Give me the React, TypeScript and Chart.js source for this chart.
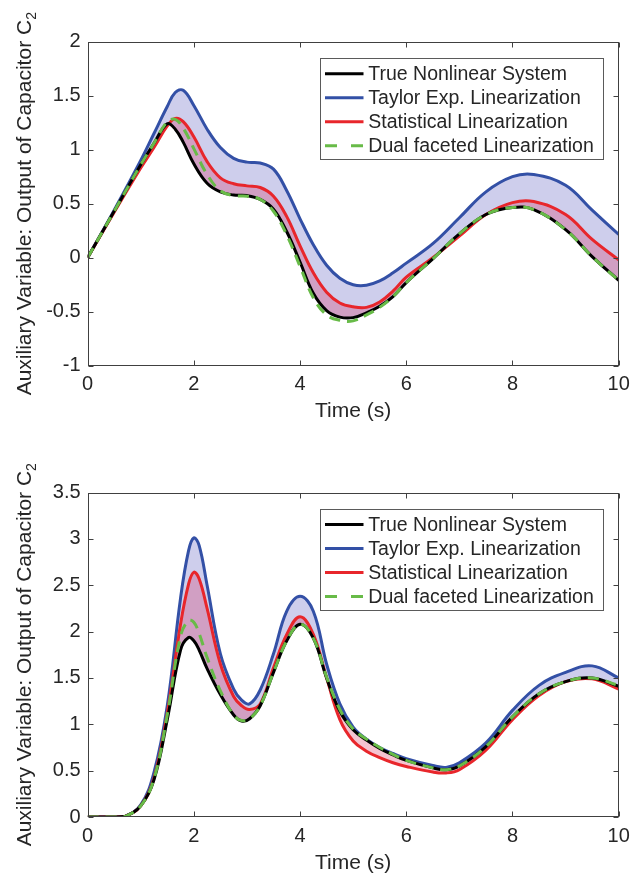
import React, { useEffect, useRef } from 'react';
import { Chart, registerables } from 'chart.js';

Chart.register(...registerables);

const FONT = "'Liberation Sans', Arial, Helvetica, sans-serif";

const SERIES_LABELS = [
  'True Nonlinear System',
  'Taylor Exp. Linearization',
  'Statistical Linearization',
  'Dual faceted Linearization',
];
const X_TICKS = [0, 2, 4, 6, 8, 10];
const Y_TICKS_TOP = [-1, -0.5, 0, 0.5, 1, 1.5, 2];
const Y_TICKS_BOTTOM = [0, 0.5, 1, 1.5, 2, 2.5, 3, 3.5];
const X_TITLE = 'Time (s)';
const Y_TITLE_MAIN = 'Auxiliary Variable: Output of Capacitor C';
const Y_TITLE_SUB = '2';

// ---- Top panel ----
const TIME_TOP = [0, 0.5, 1, 1.25, 1.5, 1.65, 1.8, 2, 2.25, 2.5, 2.75, 3, 3.25, 3.5, 3.75, 4, 4.25, 4.5, 4.75, 5, 5.25, 5.5, 5.75, 6, 6.5, 7, 7.5, 8, 8.4, 9, 9.5, 10];
const TRUE_TOP = [0, 0.43, 0.86, 1.06, 1.24, 1.19, 1.07, 0.87, 0.69, 0.61, 0.58, 0.575, 0.54, 0.45, 0.24, -0.04, -0.33, -0.49, -0.55, -0.555, -0.51, -0.45, -0.36, -0.23, -0.01, 0.22, 0.4, 0.465, 0.445, 0.26, 0.01, -0.21];
const TAYLOR_TOP = [0, 0.44, 0.9, 1.15, 1.4, 1.53, 1.55, 1.41, 1.19, 1.02, 0.92, 0.885, 0.877, 0.82, 0.62, 0.36, 0.12, -0.07, -0.19, -0.25, -0.255, -0.215, -0.14, -0.05, 0.13, 0.37, 0.61, 0.75, 0.77, 0.67, 0.44, 0.215];
const STAT_TOP = [0, 0.42, 0.83, 1.02, 1.22, 1.29, 1.26, 1.12, 0.89, 0.74, 0.685, 0.665, 0.65, 0.57, 0.38, 0.11, -0.14, -0.32, -0.42, -0.455, -0.46, -0.41, -0.31, -0.18, 0.0, 0.2, 0.4, 0.51, 0.52, 0.4, 0.17, -0.02];
const DUAL_TOP = [0, 0.43, 0.86, 1.06, 1.26, 1.28, 1.2, 1.01, 0.77, 0.62, 0.575, 0.57, 0.54, 0.43, 0.21, -0.08, -0.37, -0.53, -0.58, -0.585, -0.53, -0.46, -0.36, -0.23, -0.01, 0.22, 0.4, 0.465, 0.445, 0.26, 0.01, -0.21];

// ---- Bottom panel ----
const TIME_BOTTOM = [0, 0.5, 0.7, 1, 1.25, 1.5, 1.75, 1.9, 2, 2.1, 2.25, 2.5, 2.75, 2.9, 3.05, 3.25, 3.5, 3.75, 4, 4.25, 4.5, 4.75, 5, 5.25, 5.5, 5.75, 6, 6.5, 6.75, 7, 7.5, 8, 8.5, 9, 9.5, 10];
const TRUE_BOTTOM = [0, 0, 0.005, 0.12, 0.4, 1.05, 1.8, 1.935, 1.9, 1.8, 1.6, 1.32, 1.1, 1.035, 1.06, 1.2, 1.56, 1.9, 2.08, 1.93, 1.5, 1.14, 0.94, 0.83, 0.74, 0.67, 0.61, 0.53, 0.51, 0.55, 0.76, 1.08, 1.33, 1.46, 1.5, 1.41];
const TAYLOR_BOTTOM = [0, 0, 0.005, 0.13, 0.48, 1.2, 2.36, 2.87, 3.01, 2.93, 2.5, 1.76, 1.38, 1.26, 1.22, 1.37, 1.76, 2.22, 2.38, 2.22, 1.65, 1.22, 0.97, 0.84, 0.75, 0.685, 0.63, 0.555, 0.535, 0.585, 0.8, 1.15, 1.42, 1.56, 1.63, 1.5];
const STAT_BOTTOM = [0, 0, 0.005, 0.12, 0.42, 1.12, 2.08, 2.51, 2.64, 2.57, 2.25, 1.65, 1.3, 1.2, 1.16, 1.22, 1.61, 1.97, 2.16, 1.97, 1.5, 1.05, 0.82, 0.71, 0.64, 0.585, 0.545, 0.485, 0.475, 0.51, 0.72, 1.05, 1.31, 1.46, 1.49, 1.38];
const DUAL_BOTTOM = [0, 0, 0.005, 0.12, 0.41, 1.1, 1.95, 2.12, 2.1, 1.98, 1.72, 1.36, 1.1, 1.04, 1.06, 1.2, 1.56, 1.9, 2.08, 1.93, 1.51, 1.16, 0.95, 0.84, 0.75, 0.675, 0.61, 0.53, 0.51, 0.55, 0.76, 1.08, 1.33, 1.46, 1.5, 1.42];

const COLORS = ['#000000', '#3350a6', '#e8262b', '#68bb48'];
const TAYLOR_FILL = 'rgba(60, 60, 180, 0.25)';
const STAT_FILL = 'rgba(220, 40, 90, 0.28)';
const TEXT_COLOR = '#262626';

const matlabPlugin = {
  id: 'matlabDecor',
  afterDraw(chart: any) {
    const { ctx, chartArea: a, scales } = chart;
    ctx.save();
    ctx.strokeStyle = '#404040';
    ctx.lineWidth = 1;
    const L = Math.round(a.left) + 0.5;
    const R = Math.round(a.right) - 0.5;
    const T = Math.round(a.top) + 0.5;
    const B = Math.round(a.bottom) - 0.5;
    ctx.strokeRect(L, T, R - L, B - T);
    const tl = 5;
    ctx.beginPath();
    X_TICKS.forEach((v) => {
      const px = Math.round(scales.x.getPixelForValue(v)) + 0.5;
      ctx.moveTo(px, B); ctx.lineTo(px, B - tl);
      ctx.moveTo(px, T); ctx.lineTo(px, T + tl);
    });
    const yTicks: number[] = chart.options.plugins.matlabDecor.yTicks;
    yTicks.forEach((v) => {
      const py = Math.round(scales.y.getPixelForValue(v)) + 0.5;
      ctx.moveTo(L, py); ctx.lineTo(L + tl, py);
      ctx.moveTo(R, py); ctx.lineTo(R - tl, py);
    });
    ctx.stroke();

    // legend
    const bx = a.right - 298.7;
    const bw = 283.3;
    const by = a.top + 16.7;
    const bh = 101.3;
    ctx.fillStyle = '#ffffff';
    ctx.fillRect(bx, by, bw, bh);
    ctx.strokeStyle = '#5a5a5a';
    ctx.lineWidth = 1;
    ctx.strokeRect(Math.round(bx) + 0.5, Math.round(by) + 0.5, Math.round(bw), Math.round(bh));
    ctx.font = `19.5px ${FONT}`;
    ctx.textBaseline = 'middle';
    ctx.textAlign = 'left';
    SERIES_LABELS.forEach((label, i) => {
      const y = a.top + 32 + i * 24;
      ctx.beginPath();
      ctx.strokeStyle = COLORS[i];
      ctx.lineWidth = 3;
      ctx.setLineDash(i === 3 ? [12, 14] : []);
      ctx.moveTo(bx + 5, y);
      ctx.lineTo(bx + 43.5, y);
      ctx.stroke();
      ctx.setLineDash([]);
      ctx.fillStyle = TEXT_COLOR;
      ctx.fillText(label, bx + 48.3, y + 1);
    });

    // x title
    ctx.font = `21px ${FONT}`;
    ctx.fillStyle = TEXT_COLOR;
    ctx.textAlign = 'center';
    ctx.textBaseline = 'middle';
    ctx.fillText(X_TITLE, (a.left + a.right) / 2, a.bottom + 46);

    // y title (rotated) with subscript
    const cy = (a.top + a.bottom) / 2;
    ctx.font = `21px ${FONT}`;
    const mainW = ctx.measureText(Y_TITLE_MAIN).width;
    ctx.font = `14px ${FONT}`;
    const subW = ctx.measureText(Y_TITLE_SUB).width;
    const total = mainW + subW;
    ctx.translate(31, cy);
    ctx.rotate(-Math.PI / 2);
    ctx.textAlign = 'left';
    ctx.textBaseline = 'alphabetic';
    ctx.font = `21px ${FONT}`;
    ctx.fillText(Y_TITLE_MAIN, -total / 2, 0);
    ctx.font = `14px ${FONT}`;
    ctx.fillText(Y_TITLE_SUB, -total / 2 + mainW, 5);
    ctx.restore();
  },
};

type PanelProps = {
  height: number;
  plotTop: number;
  plotBottom: number;
  time: number[];
  trueVals: number[];
  taylorVals: number[];
  statVals: number[];
  dualVals: number[];
  yMin: number;
  yMax: number;
  yTicks: number[];
};

function Panel(p: PanelProps) {
  const ref = useRef<HTMLCanvasElement | null>(null);
  useEffect(() => {
    if (!ref.current) return;
    const toPts = (vals: number[]) => p.time.map((t, i) => ({ x: t, y: vals[i] }));
    const base = {
      pointRadius: 0,
      borderWidth: 3,
      tension: 0.4,
      borderJoinStyle: 'round' as const,
    };
    const chart = new Chart(ref.current, {
      type: 'line',
      data: {
        datasets: [
          { ...base, label: SERIES_LABELS[0], data: toPts(p.trueVals), borderColor: COLORS[0], fill: false, order: 1 },
          { ...base, label: SERIES_LABELS[1], data: toPts(p.taylorVals), borderColor: COLORS[1], backgroundColor: TAYLOR_FILL, fill: { target: 0 }, order: 3 },
          { ...base, label: SERIES_LABELS[2], data: toPts(p.statVals), borderColor: COLORS[2], backgroundColor: STAT_FILL, fill: { target: 0 }, order: 2 },
          { ...base, label: SERIES_LABELS[3], data: toPts(p.dualVals), borderColor: COLORS[3], borderDash: [11, 7], fill: false, order: 0 },
        ] as any,
      },
      options: {
        responsive: false,
        animation: false,
        events: [],
        layout: { padding: { left: 0, right: 630 - 618.7, top: p.plotTop, bottom: 0 } },
        plugins: {
          legend: { display: false },
          tooltip: { enabled: false },
          filler: { drawTime: 'beforeDatasetsDraw' },
          matlabDecor: { yTicks: p.yTicks },
        } as any,
        scales: {
          x: {
            type: 'linear',
            min: 0,
            max: 10,
            grid: { display: false, drawTicks: false },
            border: { display: false },
            ticks: {
              stepSize: 2,
              autoSkip: false,
              maxRotation: 0,
              padding: 7,
              color: TEXT_COLOR,
              font: { family: FONT, size: 20 },
              callback: (v: any) => String(v),
            },
            afterFit: (s: any) => {
              s.height = p.height - p.plotBottom;
              s.paddingLeft = 0;
              s.paddingRight = 0;
            },
          },
          y: {
            type: 'linear',
            min: p.yMin,
            max: p.yMax,
            grid: { display: false, drawTicks: false },
            border: { display: false },
            ticks: {
              stepSize: 0.5,
              autoSkip: false,
              padding: 7,
              color: TEXT_COLOR,
              font: { family: FONT, size: 20 },
              callback: (v: any) => String(v),
            },
            afterFit: (s: any) => {
              s.width = 87.6;
              s.paddingTop = 0;
              s.paddingBottom = 0;
            },
          },
        },
      } as any,
      plugins: [matlabPlugin],
    });
    return () => chart.destroy();
  }, []);
  return <canvas ref={ref} width={630} height={p.height} style={{ display: 'block', width: 630, height: p.height }} />;
}

export default function App() {
  useEffect(() => {
    document.body.style.margin = '0';
    document.body.style.background = '#ffffff';
  }, []);
  return (
    <div style={{ width: 630, height: 873, background: '#fff' }}>
      <Panel
        height={437}
        plotTop={41.7}
        plotBottom={365.7}
        time={TIME_TOP}
        trueVals={TRUE_TOP}
        taylorVals={TAYLOR_TOP}
        statVals={STAT_TOP}
        dualVals={DUAL_TOP}
        yMin={-1}
        yMax={2}
        yTicks={Y_TICKS_TOP}
      />
      <Panel
        height={436}
        plotTop={55.5}
        plotBottom={380}
        time={TIME_BOTTOM}
        trueVals={TRUE_BOTTOM}
        taylorVals={TAYLOR_BOTTOM}
        statVals={STAT_BOTTOM}
        dualVals={DUAL_BOTTOM}
        yMin={0}
        yMax={3.5}
        yTicks={Y_TICKS_BOTTOM}
      />
    </div>
  );
}
